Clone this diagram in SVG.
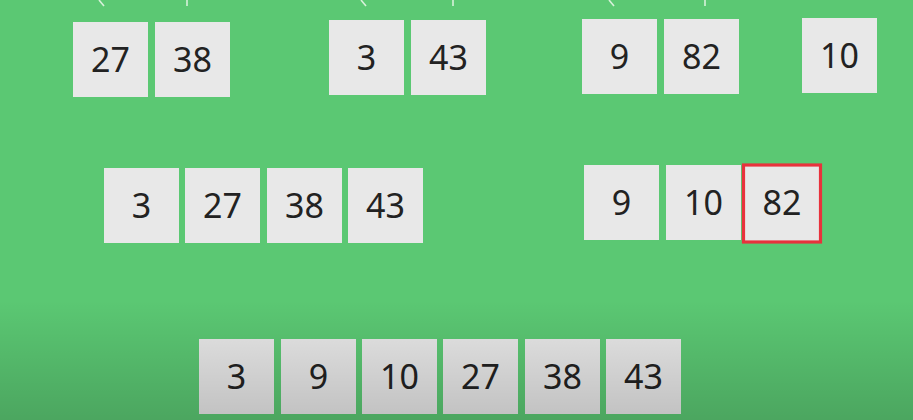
<svg xmlns="http://www.w3.org/2000/svg" width="913" height="420" viewBox="0 0 913 420">
<style>
.b{fill:#e8e8e8}
.t{font-family:"Noto Sans","Open Sans",sans-serif;font-size:34px;fill:#222;text-anchor:middle}
.c{stroke:#e6f5e6;stroke-width:1.6;fill:none;stroke-opacity:0.9}
</style>
<defs>
<linearGradient id="sh" x1="0" y1="0" x2="0" y2="1">
<stop offset="0" stop-color="#000" stop-opacity="0"/>
<stop offset="1" stop-color="#000" stop-opacity="0.17"/>
</linearGradient>
</defs>
<rect width="913" height="420" fill="#5bc873"/>
<g id="connectors">
<line class="c" x1="99" y1="0" x2="104" y2="6"/>
<line class="c" x1="187" y1="0" x2="187" y2="6"/>
<line class="c" x1="361" y1="0" x2="366" y2="6"/>
<line class="c" x1="453" y1="0" x2="453" y2="6"/>
<line class="c" x1="609" y1="0" x2="614" y2="6"/>
<line class="c" x1="705" y1="0" x2="705" y2="6"/>
</g>
<g id="n27a"><rect class="b" x="73" y="22" width="75" height="75"/><text class="t" x="110.5" y="72">27</text></g>
<g id="n38a"><rect class="b" x="155" y="22" width="75" height="75"/><text class="t" x="192.5" y="72">38</text></g>
<g id="n3a"><rect class="b" x="329" y="20" width="75" height="75"/><text class="t" x="366.5" y="70">3</text></g>
<g id="n43a"><rect class="b" x="411" y="20" width="75" height="75"/><text class="t" x="448.5" y="70">43</text></g>
<g id="n9a"><rect class="b" x="582" y="19" width="75" height="75"/><text class="t" x="619.5" y="69">9</text></g>
<g id="n82a"><rect class="b" x="664" y="19" width="75" height="75"/><text class="t" x="701.5" y="69">82</text></g>
<g id="n10a"><rect class="b" x="802" y="18" width="75" height="75"/><text class="t" x="839.5" y="68">10</text></g>
<g id="n3b"><rect class="b" x="104" y="168" width="75" height="75"/><text class="t" x="141.5" y="218">3</text></g>
<g id="n27b"><rect class="b" x="185" y="168" width="75" height="75"/><text class="t" x="222.5" y="218">27</text></g>
<g id="n38b"><rect class="b" x="267" y="168" width="75" height="75"/><text class="t" x="304.5" y="218">38</text></g>
<g id="n43b"><rect class="b" x="348" y="168" width="75" height="75"/><text class="t" x="385.5" y="218">43</text></g>
<g id="n9b"><rect class="b" x="584" y="165" width="75" height="75"/><text class="t" x="621.5" y="215">9</text></g>
<g id="n10b"><rect class="b" x="666" y="165" width="75" height="75"/><text class="t" x="703.5" y="215">10</text></g>
<g id="n82b"><rect class="b" x="743.5" y="165" width="77" height="77" stroke="#e8323c" stroke-width="3.2"/><text class="t" x="782" y="215">82</text></g>
<g id="n3c"><rect class="b" x="199" y="339" width="75" height="75"/><text class="t" x="236.5" y="389">3</text></g>
<g id="n9c"><rect class="b" x="281" y="339" width="75" height="75"/><text class="t" x="318.5" y="389">9</text></g>
<g id="n10c"><rect class="b" x="362" y="339" width="75" height="75"/><text class="t" x="399.5" y="389">10</text></g>
<g id="n27c"><rect class="b" x="443" y="339" width="75" height="75"/><text class="t" x="480.5" y="389">27</text></g>
<g id="n38c"><rect class="b" x="525" y="339" width="75" height="75"/><text class="t" x="562.5" y="389">38</text></g>
<g id="n43c"><rect class="b" x="606" y="339" width="75" height="75"/><text class="t" x="643.5" y="389">43</text></g>
<rect x="0" y="300" width="913" height="120" fill="url(#sh)"/>
</svg>
